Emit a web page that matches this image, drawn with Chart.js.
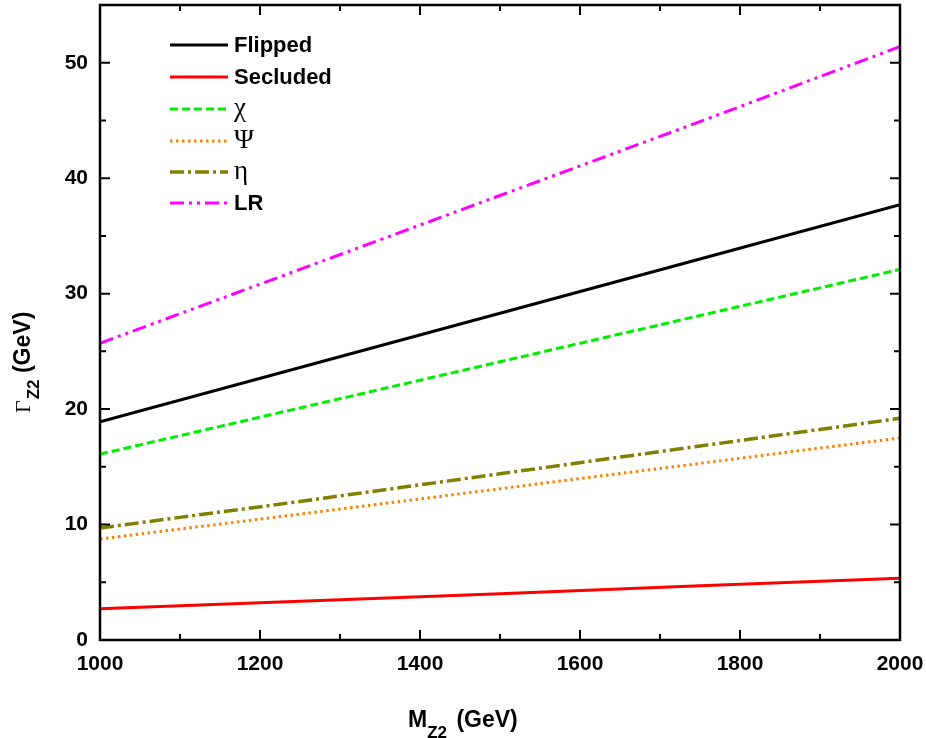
<!DOCTYPE html>
<html lang="en">
<head>
    <meta charset="UTF-8">
    <title>Z2 width vs mass</title>
    <script src="https://cdn.jsdelivr.net/npm/chart.js"></script>
    <style>
        body { margin: 0; background: #fff; }
        #wrap { width: 926px; height: 738px; }
    </style>
</head>
<body>
    <div id="wrap"><canvas id="widthChart" width="926" height="738"></canvas></div>
    <script>
        // Data
        const massValues = [1000, 1250, 1500, 1750, 2000];
        const flipped  = [18.9, 23.6, 28.3, 33.0, 37.7];
        const secluded = [2.7, 3.35, 4.0, 4.7, 5.35];
        const chiModel = [16.1, 20.1, 24.1, 28.1, 32.1];
        const psiModel = [8.75, 10.9, 13.1, 15.3, 17.5];
        const etaModel = [9.7, 12.0, 14.4, 16.8, 19.2];
        const lrModel  = [25.7, 32.1, 38.5, 44.9, 51.4];

        const xTicks = [1000, 1200, 1400, 1600, 1800, 2000];
        const yTicks = [0, 10, 20, 30, 40, 50];

        const sans = '"Liberation Sans", Arial, sans-serif';
        const serif = '"Liberation Serif", "Times New Roman", serif';

        function toPoints(ys) {
            return massValues.map((x, i) => ({x: x, y: ys[i]}));
        }

        const series = [
            {label: 'Flipped',  ys: flipped,  color: '#000000', dash: [],                   greek: false, width: 3},
            {label: 'Secluded', ys: secluded, color: '#ff0000', dash: [],                   greek: false, width: 3},
            {label: 'χ',        ys: chiModel, color: '#00ee00', dash: [8, 4],               greek: true,  width: 3},
            {label: 'Ψ',        ys: psiModel, color: '#ff8000', dash: [2.5, 3.5],           greek: true,  width: 3},
            {label: 'η',        ys: etaModel, color: '#808000', dash: [14, 4, 3, 4],        greek: true,  width: 3.5},
            {label: 'LR',       ys: lrModel,  color: '#ff00ff', dash: [14, 5, 3, 5, 3, 5],  greek: false, width: 3}
        ];
        const legendRows = [45, 77, 109, 141, 172, 203];

        // frame, inside ticks, axis titles and legend
        const decorations = {
            id: 'decorations',
            afterDraw(chart) {
                const ctx = chart.ctx;
                const a = chart.chartArea;
                const xs = chart.scales.x, ys = chart.scales.y;
                ctx.save();
                ctx.strokeStyle = '#000';
                ctx.lineWidth = 2.5;
                ctx.setLineDash([]);
                ctx.strokeRect(a.left, a.top, a.right - a.left, a.bottom - a.top);

                ctx.lineWidth = 2;
                ctx.beginPath();
                for (let v = 1000; v <= 2000; v += 100) {
                    const px = xs.getPixelForValue(v);
                    const len = (v % 200 === 0) ? 10 : 6;
                    ctx.moveTo(px, a.bottom); ctx.lineTo(px, a.bottom - len);
                    ctx.moveTo(px, a.top); ctx.lineTo(px, a.top + len);
                }
                for (let v = 0; v <= 50; v += 5) {
                    const py = ys.getPixelForValue(v);
                    const len = (v % 10 === 0) ? 10 : 6;
                    ctx.moveTo(a.left, py); ctx.lineTo(a.left + len, py);
                    ctx.moveTo(a.right, py); ctx.lineTo(a.right - len, py);
                }
                ctx.stroke();

                // x title
                ctx.fillStyle = '#000';
                ctx.textBaseline = 'alphabetic';
                ctx.textAlign = 'left';
                let x = 408;
                ctx.font = 'bold 23px ' + sans;
                ctx.fillText('M', x, 727);
                x += ctx.measureText('M').width;
                ctx.font = 'bold 17px ' + sans;
                ctx.fillText('Z2', x, 738);
                x += ctx.measureText('Z2').width + 3;
                ctx.font = 'bold 23px ' + sans;
                ctx.fillText(' (GeV)', x, 727);

                // y title
                ctx.save();
                ctx.translate(30, 413);
                ctx.rotate(-Math.PI / 2);
                let t = 0;
                ctx.font = '22px ' + serif;
                ctx.fillText('Γ', t, 0);
                t += ctx.measureText('Γ').width + 1;
                ctx.font = 'bold 17px ' + sans;
                ctx.fillText('Z2', t, 9);
                t += ctx.measureText('Z2').width;
                ctx.font = 'bold 23px ' + sans;
                ctx.fillText(' (GeV)', t, 0);
                ctx.restore();

                // legend
                series.forEach((s, i) => {
                    const y = legendRows[i];
                    ctx.strokeStyle = s.color;
                    ctx.lineWidth = s.width;
                    ctx.setLineDash(s.dash);
                    ctx.beginPath();
                    ctx.moveTo(170, y);
                    ctx.lineTo(228, y);
                    ctx.stroke();
                    ctx.setLineDash([]);
                    ctx.fillStyle = '#000';
                    ctx.textBaseline = 'middle';
                    ctx.font = s.greek ? '27px ' + serif : 'bold 22px ' + sans;
                    ctx.fillText(s.label, 234, y + (s.greek ? 0 : 1));
                });
                ctx.restore();
            }
        };

        const data = {
            datasets: series.map(s => ({
                label: s.label,
                data: toPoints(s.ys),
                borderColor: s.color,
                borderWidth: s.width,
                borderDash: s.dash,
                pointRadius: 0,
                fill: false,
                tension: 0
            }))
        };

        const config = {
            type: 'line',
            data: data,
            plugins: [decorations],
            options: {
                responsive: false,
                animation: false,
                layout: { padding: { top: 5, right: 26, left: 0, bottom: 0 } },
                plugins: {
                    legend: { display: false },
                    tooltip: { enabled: false }
                },
                scales: {
                    x: {
                        type: 'linear',
                        min: 1000,
                        max: 2000,
                        afterBuildTicks: scale => { scale.ticks = xTicks.map(v => ({value: v})); },
                        afterFit: scale => {
                            scale.height = 98;
                            scale.paddingLeft = 0; scale.paddingRight = 0;
                        },
                        grid: { display: false, drawTicks: false },
                        border: { display: false },
                        ticks: {
                            color: '#000',
                            padding: 12,
                            maxRotation: 0,
                            callback: v => String(v),
                            font: { family: sans, size: 21, weight: 'bold' }
                        }
                    },
                    y: {
                        type: 'linear',
                        min: 0,
                        max: 55,
                        afterBuildTicks: scale => { scale.ticks = yTicks.map(v => ({value: v})); },
                        afterFit: scale => {
                            scale.width = 100;
                            scale.paddingTop = 0; scale.paddingBottom = 0;
                        },
                        grid: { display: false, drawTicks: false },
                        border: { display: false },
                        ticks: {
                            color: '#000',
                            padding: 12,
                            callback: v => String(v),
                            font: { family: sans, size: 21, weight: 'bold' }
                        }
                    }
                }
            }
        };

        const myChart = new Chart(document.getElementById('widthChart'), config);
    </script>
</body>
</html>
